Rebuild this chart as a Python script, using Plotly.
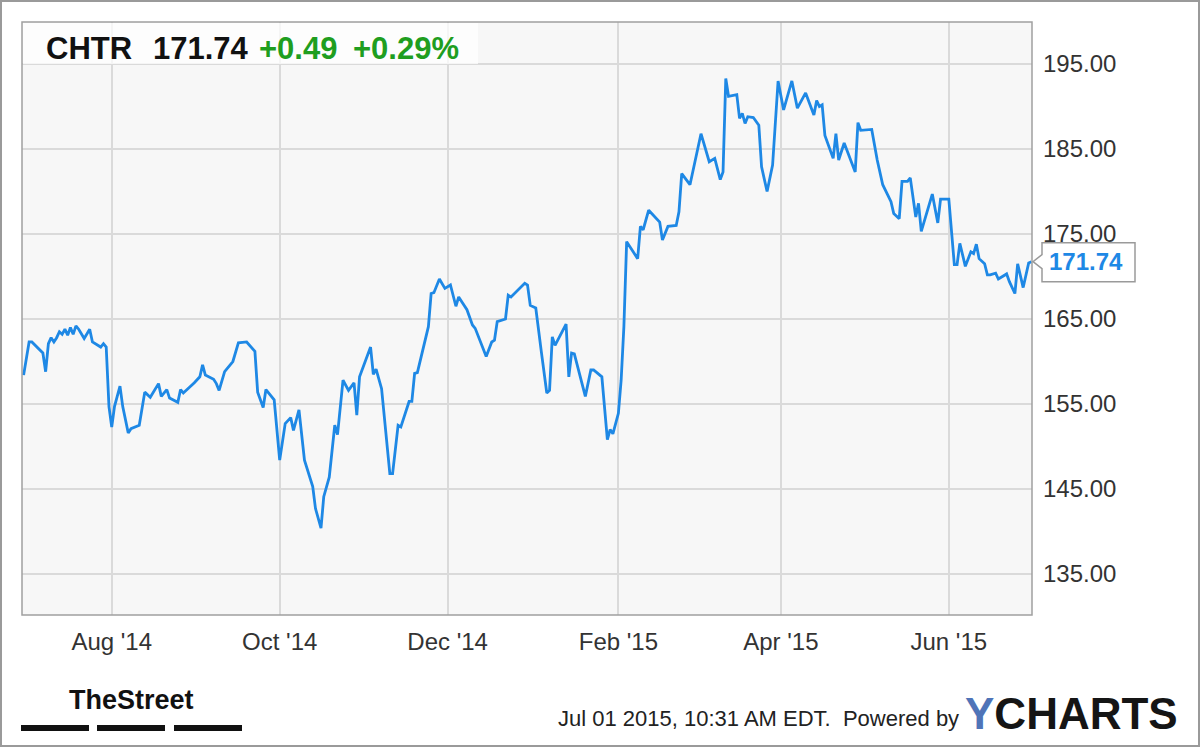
import plotly.graph_objects as go

# ---------------- data ----------------
ticker = "CHTR"
last_price = 171.74
change_abs = "+0.49"
change_pct = "+0.29%"
stamp_text = "Jul 01 2015, 10:31 AM EDT."

dates = [
    "2014-06-30", "2014-07-02", "2014-07-03", "2014-07-07", "2014-07-08", "2014-07-09", "2014-07-10", "2014-07-11",
    "2014-07-12", "2014-07-13", "2014-07-14", "2014-07-15", "2014-07-16", "2014-07-17", "2014-07-18", "2014-07-19",
    "2014-07-20", "2014-07-22", "2014-07-24", "2014-07-25", "2014-07-28", "2014-07-29", "2014-07-30", "2014-07-31",
    "2014-08-01", "2014-08-02", "2014-08-04", "2014-08-05", "2014-08-07", "2014-08-08", "2014-08-11", "2014-08-13",
    "2014-08-15", "2014-08-18", "2014-08-19", "2014-08-21", "2014-08-22", "2014-08-25", "2014-08-26", "2014-08-27",
    "2014-08-31",
    "2014-09-02", "2014-09-03", "2014-09-04", "2014-09-07", "2014-09-08", "2014-09-09", "2014-09-11", "2014-09-14",
    "2014-09-16", "2014-09-19", "2014-09-22", "2014-09-23", "2014-09-25", "2014-09-26", "2014-09-29",
    "2014-10-01", "2014-10-03", "2014-10-05", "2014-10-06", "2014-10-08", "2014-10-10", "2014-10-13", "2014-10-14",
    "2014-10-16", "2014-10-17", "2014-10-19", "2014-10-21", "2014-10-22", "2014-10-24", "2014-10-26", "2014-10-28",
    "2014-10-29", "2014-10-30",
    "2014-11-03", "2014-11-04", "2014-11-05", "2014-11-07", "2014-11-10", "2014-11-11", "2014-11-13", "2014-11-14",
    "2014-11-17", "2014-11-18", "2014-11-19", "2014-11-20", "2014-11-24", "2014-11-25", "2014-11-26", "2014-11-28",
    "2014-11-30",
    "2014-12-02", "2014-12-04", "2014-12-05", "2014-12-08", "2014-12-10", "2014-12-11", "2014-12-15", "2014-12-17",
    "2014-12-18", "2014-12-19", "2014-12-22", "2014-12-23", "2014-12-24", "2014-12-29", "2014-12-30", "2014-12-31",
    "2015-01-02", "2015-01-04", "2015-01-06", "2015-01-07", "2015-01-08", "2015-01-09", "2015-01-13", "2015-01-14",
    "2015-01-15", "2015-01-16", "2015-01-20", "2015-01-22", "2015-01-23", "2015-01-26", "2015-01-28", "2015-01-29",
    "2015-01-30",
    "2015-02-01", "2015-02-02", "2015-02-03", "2015-02-04", "2015-02-08", "2015-02-09", "2015-02-10", "2015-02-12",
    "2015-02-16", "2015-02-17", "2015-02-19", "2015-02-22", "2015-02-23", "2015-02-24", "2015-02-27",
    "2015-03-03", "2015-03-06", "2015-03-08", "2015-03-10", "2015-03-11", "2015-03-12", "2015-03-13", "2015-03-16",
    "2015-03-17", "2015-03-18", "2015-03-19", "2015-03-20", "2015-03-22", "2015-03-24", "2015-03-25", "2015-03-27",
    "2015-03-29", "2015-03-31",
    "2015-04-02", "2015-04-05", "2015-04-07", "2015-04-10", "2015-04-13", "2015-04-14", "2015-04-15", "2015-04-16",
    "2015-04-17", "2015-04-20", "2015-04-21", "2015-04-22", "2015-04-24", "2015-04-28", "2015-04-29", "2015-04-30",
    "2015-05-04", "2015-05-06", "2015-05-08", "2015-05-11", "2015-05-12", "2015-05-14", "2015-05-15", "2015-05-17",
    "2015-05-18", "2015-05-20", "2015-05-21", "2015-05-22", "2015-05-24", "2015-05-26", "2015-05-28", "2015-05-29",
    "2015-06-01", "2015-06-03", "2015-06-04", "2015-06-05", "2015-06-07", "2015-06-09", "2015-06-10", "2015-06-11",
    "2015-06-12", "2015-06-14", "2015-06-15", "2015-06-16", "2015-06-18", "2015-06-19", "2015-06-22", "2015-06-23",
    "2015-06-25", "2015-06-26", "2015-06-28", "2015-06-30", "2015-07-01",
]

prices = [
    158.4, 162.3, 162.3, 161.0, 158.8, 162.1, 162.8, 162.3,
    162.8, 163.5, 163.2, 163.8, 163.1, 164.0, 163.2, 164.2,
    163.8, 162.7, 163.8, 162.3, 161.7, 162.1, 161.7, 154.7,
    152.3, 154.7, 157.1, 154.7, 151.6, 152.1, 152.5, 156.4,
    155.8, 157.4, 155.9, 156.7, 155.7, 155.2, 156.7, 156.3,
    157.5,
    158.2, 159.6, 158.4, 157.9, 157.4, 156.6, 158.8, 160.0,
    162.2, 162.3, 161.2, 156.4, 154.6, 156.7, 155.5,
    148.4, 152.7, 153.4, 151.9, 154.3, 148.4, 145.3, 142.7,
    140.4, 144.1, 146.4, 152.5, 151.4, 157.8, 156.6, 157.5,
    153.7, 158.2,
    161.7, 158.5, 159.1, 156.8, 146.8, 146.8, 152.5, 152.3,
    155.3, 155.3, 158.6, 158.7, 164.1, 168.0, 168.1, 169.7,
    168.6,
    169.0, 166.5, 167.6, 166.1, 164.3, 163.9, 160.6, 162.3,
    162.5, 164.7, 165.0, 167.8, 167.6, 169.2, 169.0, 166.6,
    166.3, 161.2, 156.3, 156.6, 162.9, 161.9, 164.4, 158.2,
    161.0, 160.9, 155.9, 159.0, 159.0, 158.2, 150.8, 152.0,
    151.5,
    153.9, 157.8, 164.1, 174.1, 172.1, 175.9, 175.5, 177.8,
    176.4, 174.3, 175.9, 176.0, 177.6, 182.1, 180.8,
    186.8, 183.5, 183.9, 181.4, 182.3, 193.3, 191.2, 191.4,
    188.6, 189.2, 188.0, 188.8, 188.7, 187.8, 182.9, 180.0,
    183.1, 193.0,
    189.6, 193.0, 189.8, 191.6, 189.0, 190.7, 190.0, 190.2,
    186.6, 183.9, 186.8, 183.7, 185.7, 182.3, 188.1, 187.2,
    187.3, 183.7, 180.8, 178.8, 177.4, 176.8, 181.2, 181.2,
    181.6, 177.0, 178.6, 175.3, 177.6, 179.7, 176.3, 179.1,
    179.1, 171.4, 171.4, 173.9, 171.2, 172.9, 172.7, 173.8,
    172.1, 171.5, 170.2, 170.2, 170.4, 169.7, 170.3, 169.4,
    168.0, 171.5, 168.7, 171.6, 171.74,
]
assert len(dates) == len(prices)

x_tick_vals = ["2014-08-01", "2014-10-01", "2014-12-01", "2015-02-01", "2015-04-01", "2015-06-01"]
x_tick_text = ["Aug '14", "Oct '14", "Dec '14", "Feb '15", "Apr '15", "Jun '15"]
y_tick_vals = [135, 145, 155, 165, 175, 185, 195]
y_tick_text = ["%.2f" % v for v in y_tick_vals]

# ---------------- layout helpers ----------------
W, H = 1200, 747
ML, MR, MT, MB = 22, 168, 22, 132
PW, PH = W - ML - MR, H - MT - MB
X_RANGE = ["2014-06-29 10:00", "2015-07-01 05:00"]
Y_RANGE = [130.18, 199.94]


def px(x):
    return (x - ML) / PW


def py(y):
    return (H - MB - y) / PH


FONT = "Liberation Sans, Arial, Helvetica, sans-serif"
BLUE = "#1e88e5"
GREEN = "#1f9e1f"

fig = go.Figure()
fig.add_trace(go.Scatter(
    x=dates, y=prices, mode="lines",
    line=dict(color=BLUE, width=2.8),
    hoverinfo="x+y", showlegend=False, cliponaxis=False,
))

shapes = []
# outer image border
shapes.append(dict(type="rect", xref="paper", yref="paper",
                   x0=px(1), x1=px(W - 1), y0=py(H - 1), y1=py(1),
                   line=dict(color="#9a9a9a", width=2), fillcolor="rgba(0,0,0,0)", layer="above"))
# plot frame
shapes.append(dict(type="rect", xref="paper", yref="paper", x0=0, x1=1, y0=0, y1=1,
                   line=dict(color="#a0a0a0", width=1.5), fillcolor="rgba(0,0,0,0)", layer="above"))
# header box
shapes.append(dict(type="rect", xref="paper", yref="paper",
                   x0=px(23), x1=px(478), y0=py(64), y1=py(23),
                   line=dict(width=0), fillcolor="rgba(255,255,255,0.72)", layer="above"))
# TheStreet bars
for a, b in [(21, 89), (97, 165), (174, 242)]:
    shapes.append(dict(type="rect", xref="paper", yref="paper",
                       x0=px(a), x1=px(b), y0=py(731), y1=py(725),
                       line=dict(width=0), fillcolor="#111111"))
# last-price callout
y_last_paper = (last_price - Y_RANGE[0]) / (Y_RANGE[1] - Y_RANGE[0])
shapes.append(dict(type="path", xref="paper", yref="paper",
                   xsizemode="pixel", ysizemode="pixel", xanchor=1, yanchor=y_last_paper,
                   path="M1,0 L10,-7 L10,-20 L103,-20 L103,19 L10,19 L10,7 Z",
                   line=dict(color="#9a9a9a", width=1.5), fillcolor="white", layer="above"))

annotations = []


def head(text, x, color):
    annotations.append(dict(text="<b>%s</b>" % text, xref="paper", yref="paper",
                            x=px(x), y=py(49), xanchor="left", yanchor="middle", showarrow=False,
                            font=dict(family=FONT, size=31, color=color)))


head(ticker, 44, "#111111")
head("%.2f" % last_price, 151, "#111111")
head(change_abs, 257, GREEN)
head(change_pct, 351, GREEN)

annotations.append(dict(text="<b>%.2f</b>" % last_price, xref="paper", yref="y",
                        x=1, y=last_price, xanchor="left", yanchor="middle", xshift=15, showarrow=False,
                        font=dict(family=FONT, size=24, color=BLUE)))

annotations.append(dict(text="<b>TheStreet</b>", xref="paper", yref="paper",
                        x=px(131), y=py(700), xanchor="center", yanchor="middle", showarrow=False,
                        font=dict(family="Liberation Sans Narrow, Arial Narrow, Liberation Sans, sans-serif",
                                  size=27, color="#111111")))

annotations.append(dict(text=stamp_text + "  Powered by", xref="paper", yref="paper",
                        x=px(556), y=py(718), xanchor="left", yanchor="middle", showarrow=False,
                        font=dict(family=FONT, size=22, color="#222222")))
annotations.append(dict(text="<b><span style='color:#4f74b8'>Y</span>CHARTS</b>", xref="paper", yref="paper",
                        x=px(963), y=py(713), xanchor="left", yanchor="middle", showarrow=False,
                        font=dict(family=FONT, size=44, color="#151515")))

fig.update_layout(
    width=W, height=H,
    margin=dict(l=ML, r=MR, t=MT, b=MB, pad=0),
    paper_bgcolor="white", plot_bgcolor="#f7f7f7",
    shapes=shapes, annotations=annotations,
    showlegend=False,
    xaxis=dict(range=X_RANGE, type="date", tickvals=x_tick_vals, ticktext=x_tick_text,
               showgrid=True, gridcolor="#dadada", gridwidth=1.5, zeroline=False,
               showline=False, ticks="", ticklabelstandoff=10,
               tickfont=dict(family=FONT, size=24, color="#333333"), fixedrange=True),
    yaxis=dict(range=Y_RANGE, side="right", tickvals=y_tick_vals, ticktext=y_tick_text,
               showgrid=True, gridcolor="#dadada", gridwidth=1.5, zeroline=False,
               showline=False, ticks="", ticklabelstandoff=10,
               tickfont=dict(family=FONT, size=24, color="#333333"), fixedrange=True),
)

fig.write_html("out.html", config={"displayModeBar": False},
               post_script="document.body.style.margin='0';document.body.style.overflow='hidden';")
